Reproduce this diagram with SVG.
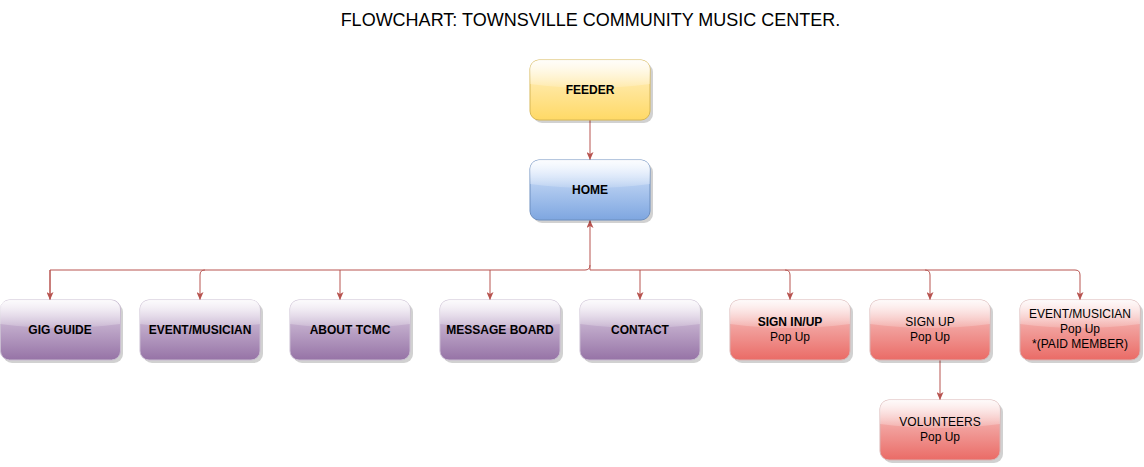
<svg xmlns="http://www.w3.org/2000/svg" width="1144" height="467" viewBox="0 0 1144 467">
<defs>
<linearGradient id="gY" x1="0" y1="0" x2="0" y2="1"><stop offset="0" stop-color="#fff2cc"/><stop offset="1" stop-color="#ffd966"/></linearGradient>
<linearGradient id="gB" x1="0" y1="0" x2="0" y2="1"><stop offset="0" stop-color="#dae8fc"/><stop offset="1" stop-color="#7ea6e0"/></linearGradient>
<linearGradient id="gP" x1="0" y1="0" x2="0" y2="1"><stop offset="0" stop-color="#e1d5e7"/><stop offset="1" stop-color="#9673a6"/></linearGradient>
<linearGradient id="gR" x1="0" y1="0" x2="0" y2="1"><stop offset="0" stop-color="#f8cecc"/><stop offset="1" stop-color="#ea6b66"/></linearGradient>
<linearGradient id="gGlass" x1="0" y1="0" x2="0" y2="1"><stop offset="0" stop-color="#fff" stop-opacity="0.9"/><stop offset="1" stop-color="#fff" stop-opacity="0.15"/></linearGradient>
<clipPath id="clipBox"><rect x="0" y="0" width="120" height="60" rx="9" ry="9"/></clipPath>
<g id="glass"><path d="M0,0 V24 Q60,32 120,24 V0 Z" fill="url(#gGlass)" clip-path="url(#clipBox)"/></g>
<marker id="arr" viewBox="0 0 8 7" refX="8" refY="3.5" markerWidth="8" markerHeight="7" markerUnits="userSpaceOnUse" orient="auto">
<path d="M0,0 L8,3.5 L0,7 L2,3.5 Z" fill="#b85450"/>
</marker>
<style>
.sh{fill:#000;opacity:0.18}
.bx{stroke-width:1}
.y{fill:url(#gY);stroke:#d6b656}
.b{fill:url(#gB);stroke:#6c8ebf}
.p{fill:url(#gP);stroke:#c9bcd1}
.r{fill:url(#gR);stroke:#d9b3b3}
.t{font-family:"Liberation Sans",Arial,Helvetica,sans-serif;font-size:12px;fill:#000;text-anchor:middle}
.bd{font-weight:bold}
.ttl{font-family:"Liberation Sans",Arial,Helvetica,sans-serif;font-size:18px;fill:#000;text-anchor:middle}
.c{fill:none;stroke:#b85450;stroke-width:1}
</style>
</defs>
<rect width="1144" height="467" fill="#fff"/>
<text class="ttl" x="590.5" y="26">FLOWCHART: TOWNSVILLE COMMUNITY MUSIC CENTER.</text>

<g id="connectors">
<path class="c" d="M590,120 V160" marker-end="url(#arr)"/>
<path class="c" d="M50,300 V270 H585 Q590,270 590,265 V220" marker-end="url(#arr)"/>
<path class="c" d="M590,265 V270 H1075 Q1080,270 1080,275 V300" marker-end="url(#arr)"/>
<path class="c" d="M50,270 V300" marker-end="url(#arr)"/>
<path class="c" d="M205,270 Q200,270 200,275 V300" marker-end="url(#arr)"/>
<path class="c" d="M340,270 V300" marker-end="url(#arr)"/>
<path class="c" d="M490,270 V300" marker-end="url(#arr)"/>
<path class="c" d="M640,270 V300" marker-end="url(#arr)"/>
<path class="c" d="M785,270 Q790,270 790,275 V300" marker-end="url(#arr)"/>
<path class="c" d="M925,270 Q930,270 930,275 V300" marker-end="url(#arr)"/>
<path class="c" d="M940,360 V400" marker-end="url(#arr)"/>
</g>

<g id="feeder" transform="translate(530,60)">
<rect class="sh" x="3" y="3" width="120" height="60" rx="9"/>
<rect class="bx y" width="120" height="60" rx="9"/>
<use href="#glass"/>
<text class="t bd" x="60" y="34">FEEDER</text>
</g>
<g id="home" transform="translate(530,160)">
<rect class="sh" x="3" y="3" width="120" height="60" rx="9"/>
<rect class="bx b" width="120" height="60" rx="9"/>
<use href="#glass"/>
<text class="t bd" x="60" y="34">HOME</text>
</g>
<g id="gig-guide" transform="translate(0,300)">
<rect class="sh" x="3" y="3" width="120" height="60" rx="9"/>
<rect class="bx p" x="0.5" width="120" height="60" rx="9"/>
<use href="#glass"/>
<text class="t bd" x="60" y="34">GIG GUIDE</text>
</g>
<g id="event-musician" transform="translate(140,300)">
<rect class="sh" x="3" y="3" width="120" height="60" rx="9"/>
<rect class="bx p" width="120" height="60" rx="9"/>
<use href="#glass"/>
<text class="t bd" x="60" y="34">EVENT/MUSICIAN</text>
</g>
<g id="about-tcmc" transform="translate(290,300)">
<rect class="sh" x="3" y="3" width="120" height="60" rx="9"/>
<rect class="bx p" width="120" height="60" rx="9"/>
<use href="#glass"/>
<text class="t bd" x="60" y="34">ABOUT TCMC</text>
</g>
<g id="message-board" transform="translate(440,300)">
<rect class="sh" x="3" y="3" width="120" height="60" rx="9"/>
<rect class="bx p" width="120" height="60" rx="9"/>
<use href="#glass"/>
<text class="t bd" x="60" y="34">MESSAGE BOARD</text>
</g>
<g id="contact" transform="translate(580,300)">
<rect class="sh" x="3" y="3" width="120" height="60" rx="9"/>
<rect class="bx p" width="120" height="60" rx="9"/>
<use href="#glass"/>
<text class="t bd" x="60" y="34">CONTACT</text>
</g>
<g id="sign-in-up" transform="translate(730,300)">
<rect class="sh" x="3" y="3" width="120" height="60" rx="9"/>
<rect class="bx r" width="120" height="60" rx="9"/>
<use href="#glass"/>
<text class="t bd" x="60" y="26">SIGN IN/UP</text>
<text class="t" x="60" y="41">Pop Up</text>
</g>
<g id="sign-up" transform="translate(870,300)">
<rect class="sh" x="3" y="3" width="120" height="60" rx="9"/>
<rect class="bx r" width="120" height="60" rx="9"/>
<use href="#glass"/>
<text class="t" x="60" y="26">SIGN UP</text>
<text class="t" x="60" y="41">Pop Up</text>
</g>
<g id="event-musician-paid" transform="translate(1020,300)">
<rect class="sh" x="3" y="3" width="120" height="60" rx="9"/>
<rect class="bx r" width="120" height="60" rx="9"/>
<use href="#glass"/>
<text class="t" x="60" y="18">EVENT/MUSICIAN</text>
<text class="t" x="60" y="33">Pop Up</text>
<text class="t" x="60" y="48">*(PAID MEMBER)</text>
</g>
<g id="volunteers" transform="translate(880,400)">
<rect class="sh" x="3" y="3" width="120" height="60" rx="9"/>
<rect class="bx r" width="120" height="60" rx="9"/>
<use href="#glass"/>
<text class="t" x="60" y="26">VOLUNTEERS</text>
<text class="t" x="60" y="41">Pop Up</text>
</g>
</svg>
